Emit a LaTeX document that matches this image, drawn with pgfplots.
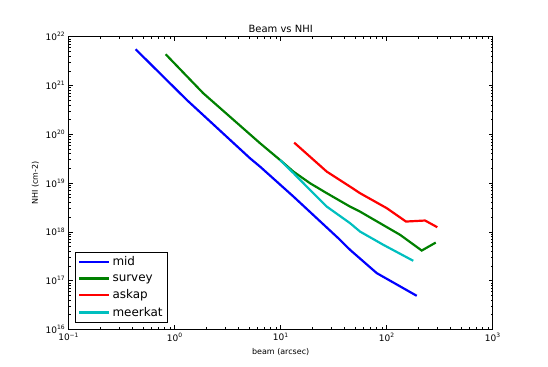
\documentclass[border=0pt]{standalone}
\usepackage{fontspec}
\setmainfont{DejaVu Sans}
\usepackage{pgfplots}
\pgfplotsset{compat=1.18}

\definecolor{mplblue}{rgb}{0,0,1}
\definecolor{mplgreen}{rgb}{0,0.5,0}
\definecolor{mplred}{rgb}{1,0,0}
\definecolor{mplcyan}{rgb}{0,0.75,0.75}

\newcommand{\logtick}{%
  \pgfmathtruncatemacro\e{round(\tick)}%
  10\textsuperscript{\ifnum\e<0 −\number\numexpr-\e\relax\else\e\fi}}

\begin{document}
\begin{tikzpicture}
\begin{axis}[
    scale only axis,
    width=424bp, height=292.6bp,
    xmode=log, ymode=log,
    log basis x=10, log basis y=10,
    xmin=0.1, xmax=1000,
    ymin=1e16, ymax=1e22,
    axis line style={line width=0.8pt},
    tick style={black, line width=0.5pt},
    major tick length=4bp, minor tick length=2bp,
    xticklabel={\logtick}, yticklabel={\logtick},
    tick label style={font=\fontsize{9}{10}\selectfont},
    title={Beam vs NHI},
    title style={font=\fontsize{10}{12}\selectfont, yshift=-5bp},
    xlabel={beam (arcsec)},
    ylabel={NHI (cm-2)},
    label style={font=\fontsize{8}{10}\selectfont},
    legend style={at={(0.015,0.0215)}, anchor=south west,
        font=\fontsize{12}{14}\selectfont, draw=black, line width=0.6pt,
        row sep=3pt, inner sep=3pt},
    legend cell align=left,
    legend image code/.code={%
        \path (0bp,0bp) -- (30bp,0bp);
        \draw[#1] (3bp,0bp) -- (23bp,0bp);},
    every axis plot/.append style={line width=2.2pt},
]
\addplot[mplblue] coordinates {
 (0.428,5.52e21) (1.30,5.05e20) (5.13,3.22e19) (6.38,2.17e19)
 (13.2,5.26e18) (34.9,7.39e17) (45.1,4.26e17) (80.5,1.42e17) (192,4.86e16)};
\addplot[mplgreen] coordinates {
 (0.822,4.36e21) (1.86,6.92e20) (6.38,6.55e19) (9.85,2.97e19) (13.2,1.71e19)
 (18.9,9.9e18) (27.2,6.18e18) (45.1,3.28e18) (56.0,2.59e18) (134,8.63e17)
 (214,4.12e17) (290,6.0e17)};
\addplot[mplred] coordinates {
 (13.4,6.73e19) (27.2,1.71e19) (45.1,8.43e18) (56.0,6.18e18) (100,3.05e18)
 (152,1.62e18) (230,1.70e18) (300,1.24e18)};
\addplot[mplcyan] coordinates {
 (9.85,2.97e19) (13.2,1.59e19) (18.9,7.23e18) (27.2,3.28e18) (45.1,1.50e18)
 (56.0,1.01e18) (92.9,5.4e17) (178,2.54e17)};
\legend{mid,survey,askap,meerkat}
\coordinate (bl) at (rel axis cs:-0.162,-0.1254);
\coordinate (tr) at (rel axis cs:1.1304,1.1254);
\end{axis}
\path (bl) rectangle (tr);
\end{tikzpicture}
\end{document}
